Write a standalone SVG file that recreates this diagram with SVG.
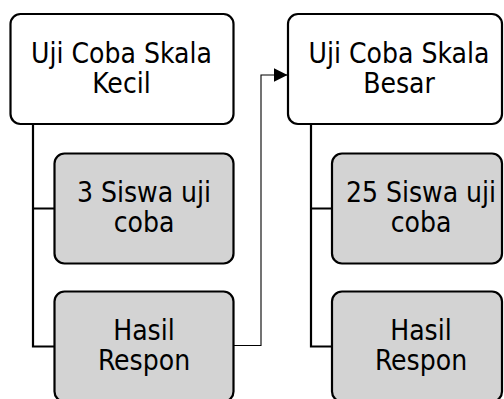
<svg xmlns="http://www.w3.org/2000/svg" width="504" height="399" viewBox="0 0 504 399">
<defs>
<style>
.box{fill:#ffffff;stroke:#000000;stroke-width:2.2}
.sub{fill:#d3d3d3;stroke:#000000;stroke-width:2.2}
.tree{fill:none;stroke:#000000;stroke-width:2.2}
.link{fill:none;stroke:#000000;stroke-width:1.1}
text{font-family:"DejaVu Sans",Verdana,sans-serif;font-stretch:condensed;font-size:28px;fill:#000000;text-anchor:middle}
</style>
<marker id="arrow" viewBox="0 0 14 14" refX="14" refY="7" markerWidth="14" markerHeight="14" markerUnits="userSpaceOnUse" orient="auto">
<path d="M0,0 L14,7 L0,14 Z" fill="#000000"/>
</marker>
</defs>
<g id="connectors">
<path class="tree" d="M33,124 V346.5 H54.5 M33,208.5 H54.5"/>
<path class="tree" d="M311,124 V346.5 H332 M311,208.5 H332"/>
<path class="link" d="M233.5,345.5 H261 V75 H287.5" marker-end="url(#arrow)"/>
</g>
<g id="node-kecil">
<rect class="box" x="10.5" y="14" width="223" height="110" rx="10"/>
<text x="121.5" y="63">Uji Coba Skala</text>
<text x="121.5" y="93">Kecil</text>
</g>
<g id="node-kecil-siswa">
<rect class="sub" x="54.5" y="153.5" width="179" height="110" rx="10"/>
<text x="144" y="202">3 Siswa uji</text>
<text x="144" y="232">coba</text>
</g>
<g id="node-kecil-hasil">
<rect class="sub" x="54.5" y="291.5" width="179" height="110" rx="10"/>
<text x="144" y="340">Hasil</text>
<text x="144" y="370">Respon</text>
</g>
<g id="node-besar">
<rect class="box" x="288" y="14" width="214" height="110" rx="10"/>
<text x="399" y="63">Uji Coba Skala</text>
<text x="399" y="93">Besar</text>
</g>
<g id="node-besar-siswa">
<rect class="sub" x="332" y="153.5" width="170" height="110" rx="10"/>
<text x="421" y="202">25 Siswa uji</text>
<text x="421" y="232">coba</text>
</g>
<g id="node-besar-hasil">
<rect class="sub" x="332" y="291.5" width="170" height="110" rx="10"/>
<text x="421" y="340">Hasil</text>
<text x="421" y="370">Respon</text>
</g>
</svg>
